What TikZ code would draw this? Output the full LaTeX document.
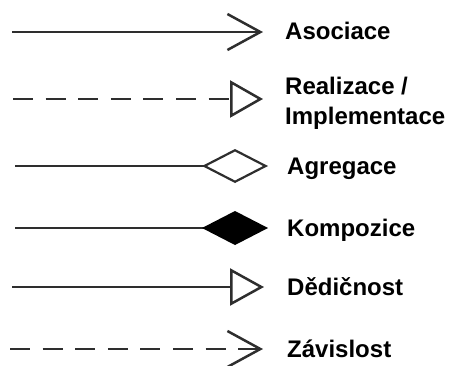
\documentclass[tikz,border=0pt]{standalone}
\usepackage{fontspec}
\setmainfont{Liberation Sans}
\usetikzlibrary{arrows.meta}
\begin{document}
\begin{tikzpicture}[x=1pt,y=-1pt,
  conn/.style={line width=2.5pt, draw=black!82, line cap=butt},
  dashconn/.style={conn, dash pattern=on 20pt off 12.6pt},
  lbl/.style={anchor=base west, inner sep=0pt, font=\fontsize{24}{30}\selectfont\bfseries, align=left},
  vtip/.style={-{Straight Barb[length=33pt,width=36pt,line width=2.5pt]}},
  tritip/.style={-{Triangle[open,fill=white,length=#1pt,width=37pt,line width=2.5pt]}},
  diatip/.style={-{Diamond[length=66pt,width=34pt,line width=2.2pt,#1]}}
]
\useasboundingbox (0,0) rectangle (449,365);
% endpoints
\coordinate (a1) at (12,32);   \coordinate (b1) at (263,32);
\coordinate (a2) at (13,99);   \coordinate (b2) at (263,99);
\coordinate (a3) at (15,166);  \coordinate (b3) at (268,166);
\coordinate (a4) at (15,228);  \coordinate (b4) at (268,228);
\coordinate (a5) at (12,287);  \coordinate (b5) at (264,287);
\coordinate (a6) at (10,349);  \coordinate (b6) at (263,349);
% labels
\node[lbl] (t1) at (285,39.5) {Asociace};
\node[lbl] (t2) at (285,124) {Realizace /\\Implementace};
\node[lbl] (t3) at (287,174.5) {Agregace};
\node[lbl] (t4) at (287,236.5) {Kompozice};
\node[lbl] (t5) at (287,295) {Dědičnost};
\node[lbl] (t6) at (287,357.5) {Závislost};
% connectors
\draw[conn, vtip] (a1) -- (b1);
\draw[dashconn, tritip=33] (a2) -- (b2);
\draw[conn, diatip={open,fill=white}] (a3) -- (b3);
\draw[conn, diatip={color=black,fill=black}] (a4) -- (b4);
\draw[conn, tritip=34] (a5) -- (b5);
\draw[dashconn, vtip] (a6) -- (b6);
\end{tikzpicture}
\end{document}
